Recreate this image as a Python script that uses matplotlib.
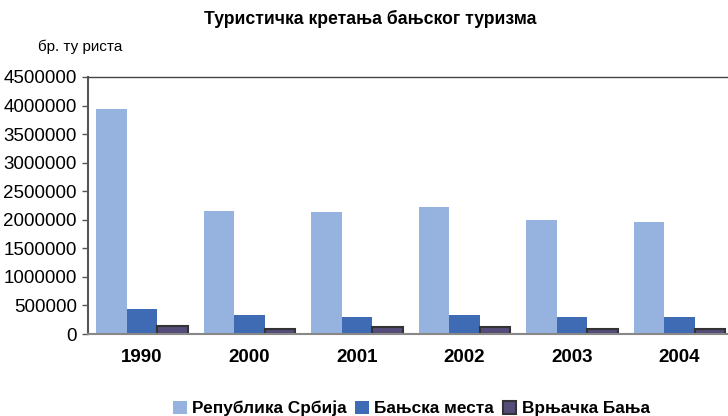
import matplotlib
matplotlib.use('Agg')
import matplotlib.pyplot as plt
import numpy as np

plt.rcParams['font.family'] = ['Liberation Sans', 'DejaVu Sans']

# data
years = ['1990', '2000', '2001', '2002', '2003', '2004']
srbija = [3940000, 2155000, 2135000, 2220000, 2000000, 1960000]
banjska = [438000, 333000, 298000, 333000, 298000, 298000]
vrnjacka = [145000, 88000, 117000, 115000, 88000, 88000]
series_names = ['Република Србија', 'Бањска места', 'Врњачка Бања']

fig = plt.figure(figsize=(7.28, 4.16), dpi=100)
ax = fig.add_axes([0.121, 0.197, 0.879, 0.618])

x = np.arange(len(years))
w = 0.284
ax.bar(x - w, srbija, w, color='#95B3DE', label=series_names[0])
ax.bar(x, banjska, w, color='#3E6BB4', label=series_names[1])
ax.bar(x + w, vrnjacka, w, color='#554C7A', edgecolor='#333333', linewidth=1.5,
       label=series_names[2])

ax.set_xlim(-0.5, 5.45)
ax.set_ylim(0, 4500000)
ax.set_yticks(np.arange(0, 4500001, 500000))
ax.set_yticklabels([str(v) for v in range(0, 4500001, 500000)], fontsize=13.5)
ax.set_xticks(x)
ax.set_xticklabels(years, fontsize=13.5, fontweight='bold')
ax.tick_params(axis='x', length=0, pad=11)
ax.tick_params(axis='y', length=4, width=1, color='#555555', pad=4)

ax.spines['right'].set_visible(False)
ax.spines['left'].set_color('#555555')
ax.spines['left'].set_linewidth(1.5)
ax.spines['bottom'].set_color('#888888')
ax.spines['bottom'].set_linewidth(1.5)
ax.spines['top'].set_color('#444444')
ax.spines['top'].set_linewidth(1)

fig.text(0.508, 0.955, 'Туристичка кретања бањског туризма', ha='center', va='center',
         fontsize=12.7, fontweight='bold')
fig.text(0.052, 0.888, 'бр. ту риста', ha='left', va='center', fontsize=11)

fig.legend(loc='center', bbox_to_anchor=(0.565, 0.018), ncol=3, frameon=False,
           handlelength=0.8, handleheight=0.8, handletextpad=0.3,
           columnspacing=0.5, prop={'weight': 'bold', 'size': 12.4})

fig.savefig('out.png', dpi=100)
